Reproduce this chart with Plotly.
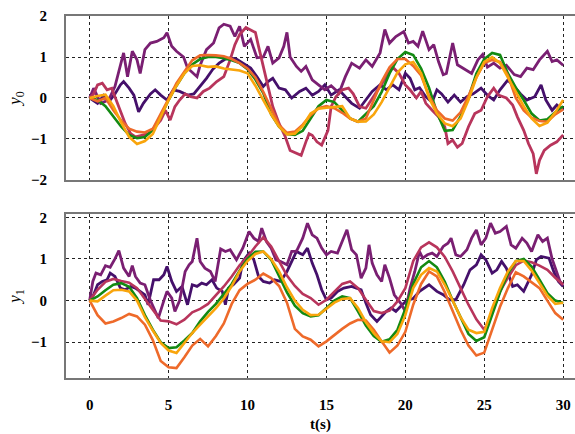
import plotly.graph_objects as go

# regular time grid (s) for the smooth series
t = [i * 0.5 for i in range(61)]

# ---- top panel (y0): smooth series on the regular grid ----
y0_green = [0, -0.05, -0.2, -0.45, -0.7, -0.9, -0.98, -0.95, -0.78, -0.45, -0.05, 0.3, 0.6, 0.82, 0.95, 1.0,
            1.0, 0.97, 0.92, 0.85, 0.7, 0.45, 0.12, -0.4, -0.7, -0.88, -0.9, -0.8, -0.5, -0.2, -0.05,
            -0.1, -0.3, -0.5, -0.58, -0.4, -0.2, 0.15, 0.6, 0.95, 1.12, 1.05, 0.72, 0.25, -0.35, -0.8,
            -0.78, -0.45, 0.0, 0.6, 0.95, 1.1, 1.05, 0.6, 0.25, -0.05, -0.38, -0.55, -0.52, -0.35, -0.2]
y0_yellow = [0, 0.05, 0.08, -0.2, -0.6, -0.95, -1.12, -1.05, -0.88, -0.46, -0.05, 0.3, 0.6, 0.78, 0.8, 0.76,
             0.77, 0.72, 0.7, 0.67, 0.6, 0.3, -0.05, -0.4, -0.7, -0.89, -0.87, -0.68, -0.38, -0.26, -0.24,
             -0.22, -0.2, -0.5, -0.58, -0.57, -0.4, -0.1, 0.28, 0.62, 0.82, 0.88, 0.6, 0.0, -0.38, -0.62,
             -0.69, -0.5, -0.05, 0.5, 0.88, 1.0, 0.85, 0.5, 0.15, -0.2, -0.5, -0.68, -0.6, -0.35, -0.05]
y0_orange = [0, -0.08, 0.0, -0.3, -0.55, -0.75, -0.82, -0.84, -0.75, -0.4, -0.02, 0.36, 0.65, 0.92, 1.04, 1.05,
             1.04, 1.02, 0.95, 0.85, 0.72, 0.5, 0.15, -0.25, -0.66, -0.85, -0.82, -0.65, -0.42, -0.25, -0.2,
             -0.25, -0.36, -0.5, -0.58, -0.5, -0.05, 0.4, 0.75, 0.95, 0.95, 0.78, 0.55, 0.05, -0.3, -0.5,
             -0.55, -0.35, 0.05, 0.5, 0.85, 0.93, 0.88, 0.55, 0.0, -0.3, -0.48, -0.56, -0.58, -0.4, -0.28]

# ---- top panel: noisy series as (t, value) readings ----
y0_dark = [(0, 0), (0.5, -0.13), (0.9, 0.07), (1.3, -0.05), (1.6, 0.1), (1.95, 0.32), (2.15, 0.4), (2.5, 0.24),
           (2.8, 0.07), (3.1, -0.34), (3.4, -0.13), (3.85, 0.1), (4.15, 0.2), (4.5, 0.07), (4.9, -0.05),
           (5.3, 0.2), (5.7, 0.16), (6.2, 0.07), (6.6, 0.1), (7.0, 0.28), (7.4, 0.48), (7.8, 0.7), (8.2, 0.85),
           (8.6, 0.95), (8.9, 0.98), (9.3, 0.95), (9.7, 0.85), (10.2, 0.73), (10.6, 0.52), (11.0, 0.28),
           (11.3, 0.4), (11.6, 0.48), (12.0, 0.24), (12.4, 0.2), (12.8, 0.0), (13.3, 0.16), (13.7, 0.24),
           (14.1, 0.07), (14.5, 0.16), (14.9, 0.32), (15.3, 0.07), (15.8, 0.2), (16.2, 0.03), (16.6, -0.13),
           (17.1, -0.25), (17.5, -0.05), (17.9, 0.16), (18.4, 0.32), (18.8, 0.2), (19.2, 0.32), (19.6, 0.2),
           (20.0, 0.6), (20.3, 0.48), (20.6, 0.2), (20.9, 0.25), (21.3, 0.03), (21.7, -0.1), (22.0, 0.2),
           (22.3, 0.1), (22.7, -0.1), (23.1, 0.07), (23.5, -0.1), (23.9, 0.03), (24.3, 0.1), (24.8, 0.24),
           (25.2, 0.07), (25.6, -0.05), (26.0, 0.2), (26.5, 0.44), (26.9, 0.28), (27.3, 0.1), (27.7, -0.05),
           (28.2, 0.03), (28.6, 0.32), (28.9, -0.05), (29.3, -0.3), (29.6, -0.17), (30.0, -0.3)]
y0_purple = [(0, 0), (0.25, 0.24), (0.7, -0.13), (1.2, -0.05), (1.6, 0.28), (1.95, 0.85), (2.15, 1.1), (2.4, 0.52),
             (2.7, 1.14), (3.0, 0.93), (3.2, 0.6), (3.5, 1.18), (3.85, 1.34), (4.25, 1.38), (4.7, 1.47),
             (4.9, 1.59), (5.2, 1.26), (5.5, 1.14), (5.95, 1.0), (6.2, 0.73), (6.8, 0.52), (7.0, 0.8),
             (7.4, 1.18), (7.85, 1.34), (8.2, 1.71), (8.5, 1.8), (8.9, 1.75), (9.2, 1.5), (9.5, 1.75),
             (9.8, 1.26), (10.2, 1.43), (10.6, 0.98), (11.0, 1.0), (11.3, 1.26), (11.6, 0.85), (12.0, 0.98),
             (12.3, 1.26), (12.5, 1.6), (12.7, 1.0), (13.1, 0.77), (13.4, 0.65), (13.7, 0.77), (14.1, 0.44),
             (14.5, 0.32), (14.9, 0.2), (15.3, 0.3), (15.8, 0.12), (16.2, 0.52), (16.6, 0.85), (17.1, 0.73),
             (17.5, 0.93), (17.9, 0.77), (18.4, 1.1), (18.7, 1.67), (19.0, 1.34), (19.4, 1.5), (19.9, 1.62),
             (20.2, 1.34), (20.5, 1.38), (20.8, 1.26), (21.1, 1.63), (21.5, 1.18), (21.8, 1.3), (22.1, 0.89),
             (22.4, 0.57), (22.6, 0.6), (23.0, 1.34), (23.3, 0.81), (23.8, 0.69), (24.2, 0.6), (24.6, 0.93),
             (24.9, 1.06), (25.2, 0.75), (25.6, 0.85), (26.0, 0.73), (26.4, 0.8), (26.9, 0.57), (27.3, 0.52),
             (27.7, 0.73), (28.1, 0.69), (28.5, 0.93), (29.0, 1.14), (29.3, 0.89), (29.6, 0.93), (30.0, 0.8)]
y0_pink = [(0, 0), (0.25, 0.1), (0.5, 0.32), (0.8, 0.36), (1.1, 0.2), (1.4, 0.24), (1.6, 0.03), (1.95, -0.3),
           (2.25, -0.62), (2.6, -0.87), (2.9, -0.95), (3.3, -0.91), (3.7, -0.87), (4.15, -0.7), (4.5, -0.54),
           (4.8, -0.3), (5.1, -0.54), (5.4, -0.21), (5.7, -0.05), (6.05, 0.1), (6.4, 0.03), (6.8, 0.0),
           (7.2, 0.16), (7.6, 0.24), (8.05, 0.4), (8.5, 0.52), (8.9, 0.93), (9.2, 1.3), (9.5, 1.55),
           (9.9, 1.72), (10.3, 1.65), (10.5, 1.6), (10.7, 1.26), (11.0, 0.77), (11.3, 0.28), (11.6, -0.21),
           (12.0, -0.62), (12.4, -0.95), (12.7, -1.28), (13.1, -1.36), (13.4, -1.4), (13.7, -1.07),
           (13.9, -0.87), (14.1, -0.91), (14.4, -1.07), (14.7, -1.15), (15.1, -0.79), (15.3, -0.21),
           (15.6, 0.03), (16.0, 0.2), (16.4, 0.24), (16.7, 0.1), (17.1, -0.21), (17.5, -0.25), (17.9, 0.0),
           (18.4, 0.28), (18.8, 0.52), (19.2, 0.75), (19.6, 0.6), (20.0, 0.32), (20.3, 0.2), (20.7, 0.0),
           (21.0, 0.16), (21.3, -0.13), (21.7, -0.3), (22.1, -0.46), (22.5, -0.7), (22.7, -1.11), (23.0, -1.03),
           (23.3, -1.2), (23.6, -1.11), (24.0, -0.7), (24.4, -0.38), (24.8, -0.3), (25.2, 0.03), (25.6, 0.24),
           (25.9, 0.07), (26.4, 0.0), (26.8, -0.17), (27.1, -0.46), (27.5, -0.79), (27.8, -1.11), (28.1, -1.36),
           (28.3, -1.85), (28.5, -1.52), (28.8, -1.28), (29.2, -1.15), (29.6, -1.07), (30.0, -0.9)]

# ---- bottom panel (y1): smooth series on the regular grid ----
y1_green = [0, 0.1, 0.25, 0.38, 0.42, 0.33, 0.06, -0.35, -0.7, -1.0, -1.14, -1.12, -0.96, -0.78, -0.5, -0.27,
            -0.08, 0.15, 0.4, 0.72, 1.0, 1.17, 1.18, 0.98, 0.6, 0.2, -0.12, -0.3, -0.38, -0.35, -0.18,
            0.0, 0.1, 0.06, -0.26, -0.6, -0.85, -0.99, -0.93, -0.7, -0.2, 0.4, 0.8, 0.95, 0.8, 0.45,
            0.0, -0.42, -0.8, -0.97, -0.88, -0.34, 0.2, 0.65, 0.95, 1.0, 0.82, 0.5, 0.18, 0.0, -0.06]
y1_yellow = [0, -0.02, 0.12, 0.25, 0.26, 0.22, 0.0, -0.4, -0.72, -1.02, -1.2, -1.26, -1.02, -0.78, -0.58, -0.38,
             -0.18, 0.05, 0.35, 0.7, 0.95, 1.12, 1.18, 1.0, 0.7, 0.32, 0.0, -0.22, -0.35, -0.34, -0.2,
             -0.05, 0.04, 0.06, -0.18, -0.52, -0.78, -0.98, -1.0, -0.8, -0.35, 0.3, 0.62, 0.78, 0.7, 0.38,
             0.0, -0.4, -0.7, -0.78, -0.75, -0.18, 0.3, 0.7, 0.95, 0.95, 0.72, 0.42, 0.12, -0.08, -0.05]
y1_orange = [0, -0.35, -0.55, -0.5, -0.42, -0.32, -0.38, -0.58, -0.95, -1.45, -1.6, -1.62, -1.36, -1.08, -0.92, -1.1,
             -0.85, -0.55, -0.08, 0.25, 0.4, 0.5, 0.65, 0.54, 0.35, -0.05, -0.68, -0.86, -0.94, -1.1, -0.98,
             -0.82, -0.68, -0.55, -0.46, -0.48, -0.7, -0.98, -1.25, -1.08, -0.75, -0.1, 0.4, 0.7, 0.58, 0.2,
             -0.25, -0.7, -1.08, -1.32, -1.25, -0.7, -0.15, 0.3, 0.68, 0.58, 0.45, 0.3, 0.0, -0.3, -0.46]
y1_pink = [0, 0.26, 0.45, 0.52, 0.47, 0.43, 0.3, 0.05, -0.22, -0.48, -0.5, -0.57, -0.46, -0.28, -0.2, -0.08,
           0.12, 0.34, 0.58, 0.85, 1.05, 1.3, 1.52, 1.3, 0.95, 0.6, 0.35, 0.16, 0.06, -0.1, 0.02,
           0.2, 0.4, 0.46, 0.3, 0.02, -0.25, -0.3, -0.24, -0.02, 0.3, 0.95, 1.28, 1.4, 1.28, 1.05,
           0.7, 0.3, -0.1, -0.45, -0.7, -0.3, 0.22, 0.55, 0.85, 0.96, 0.92, 0.84, 0.74, 0.55, 0.38]

# ---- bottom panel: noisy series as (t, value) readings ----
y1_dark = [(0, 0), (0.25, 0.14), (0.5, 0.38), (0.8, 0.46), (1.1, 0.5), (1.3, 0.66), (1.6, 0.58), (1.95, 0.3),
           (2.25, 0.26), (2.6, 0.34), (2.9, 0.3), (3.2, 0.22), (3.5, 0.14), (3.7, -0.1), (4.05, 0.5), (4.4, 0.5),
           (4.7, 0.62), (4.9, 0.82), (5.2, 0.46), (5.5, 0.22), (5.85, 0.34), (6.2, -0.1), (6.5, 0.38),
           (6.8, 0.34), (7.1, 0.42), (7.4, 0.38), (7.75, 0.5), (8.05, 0.3), (8.4, 0.22), (8.6, -0.1), (8.8, 0.3),
           (9.1, 0.38), (9.5, 0.54), (9.7, 0.94), (10.1, 1.14), (10.4, 0.98), (10.7, 0.58), (11.0, 0.46),
           (11.4, 0.42), (11.7, 0.5), (12.1, 0.46), (12.5, 0.7), (12.8, 0.94), (13.1, 1.18), (13.5, 1.1),
           (13.8, 1.26), (14.1, 0.9), (14.4, 0.62), (14.7, 0.26), (15.0, 0.02), (15.3, 0.06), (15.7, 0.22),
           (16.1, 0.3), (16.6, 0.34), (16.9, 0.3), (17.2, 0.26), (17.5, -0.06), (17.8, -0.34), (18.2, -0.5),
           (18.5, -0.38), (18.8, -0.26), (19.1, -0.18), (19.4, -0.26), (19.8, -0.1), (20.1, 0.0), (20.5, 0.05),
           (20.9, 0.22), (21.5, 0.38), (22.0, 0.22), (22.4, 0.14), (22.8, 0.02), (23.2, 0.02), (23.7, 0.38),
           (24.1, 0.74), (24.5, 0.86), (24.8, 1.1), (25.1, 0.98), (25.5, 0.66), (25.8, 0.74), (26.1, 0.94),
           (26.4, 0.78), (26.8, 0.34), (27.1, 0.38), (27.5, 0.22), (28.0, 0.62), (28.3, 0.98), (28.6, 1.06),
           (29.1, 1.02), (29.4, 0.7), (29.7, 0.46), (30.0, 0.34)]
y1_purple = [(0, 0), (0.2, 0.46), (0.4, 0.66), (0.7, 0.62), (1.0, 0.84), (1.3, 0.8), (1.6, 1.0), (1.85, 1.2),
             (2.15, 0.78), (2.5, 0.58), (2.7, 0.84), (2.9, 0.58), (3.2, 0.42), (3.5, 0.38), (3.85, 0.0),
             (4.15, -0.26), (4.35, -0.42), (4.7, 0.0), (4.9, 0.22), (5.2, 0.06), (5.4, -0.26), (5.7, 0.0),
             (6.05, 0.7), (6.3, 0.86), (6.5, 0.94), (6.8, 1.5), (7.0, 0.94), (7.3, 0.78), (7.65, 0.7),
             (7.95, 0.46), (8.3, 1.24), (8.6, 1.18), (8.9, 1.22), (9.3, 0.98), (9.7, 1.26), (10.1, 1.66),
             (10.4, 1.5), (10.7, 1.42), (10.9, 1.74), (11.2, 1.42), (11.5, 1.26), (11.8, 0.98), (12.1, 0.94),
             (12.5, 0.86), (12.8, 1.18), (13.1, 1.18), (13.5, 1.5), (13.8, 1.86), (14.1, 1.58), (14.4, 1.5),
             (14.7, 1.26), (15.0, 1.1), (15.3, 1.18), (15.7, 1.14), (16.1, 1.5), (16.3, 1.7), (16.6, 1.22),
             (16.9, 1.1), (17.2, 0.54), (17.5, 0.78), (17.7, 1.34), (17.9, 0.9), (18.2, 0.62), (18.5, 0.46),
             (18.7, 0.86), (19.0, 0.54), (19.3, 0.14), (19.7, -0.06), (20.0, -0.26), (20.3, 0.3), (20.6, 0.7),
             (20.9, 1.18), (21.1, 1.02), (21.4, 1.1), (21.7, 1.14), (22.0, 1.06), (22.4, 1.3), (22.7, 1.38),
             (22.9, 1.5), (23.2, 1.1), (23.5, 1.06), (23.9, 1.22), (24.2, 1.5), (24.5, 1.7), (24.8, 1.34),
             (25.1, 1.5), (25.4, 1.86), (25.7, 1.62), (26.0, 1.66), (26.4, 1.78), (26.7, 1.34), (27.0, 1.26),
             (27.4, 1.5), (27.7, 1.38), (28.0, 1.18), (28.4, 1.58), (28.7, 1.42), (29.0, 1.5), (29.3, 1.0),
             (29.6, 0.7), (29.8, 0.46), (30.0, 0.38)]

x_ticks = [0, 5, 10, 15, 20, 25, 30]
y0_ticks = [-2, -1, 0, 1, 2]
y1_ticks = [-1, 0, 1, 2]

C_DARK = "#45106b"
C_PURPLE = "#7a1f72"
C_PINK = "#b8355c"
C_ORANGE = "#ee6a2a"
C_YELLOW = "#f9a50c"
C_GREEN = "#138a12"


def split(pairs):
    return [p[0] for p in pairs], [p[1] for p in pairs]


fig = go.Figure()


def add(xs, ys, color, ax, width=2.8):
    fig.add_trace(go.Scatter(x=xs, y=ys, mode="lines", line=dict(color=color, width=width),
                             xaxis="x" if ax == 1 else "x2", yaxis="y" if ax == 1 else "y2",
                             showlegend=False, hoverinfo="skip"))


for pairs, c in [(y0_dark, C_DARK), (y0_purple, C_PURPLE), (y0_pink, C_PINK)]:
    xs, ys = split(pairs)
    add(xs, ys, c, 1)
for ys, c in [(y0_green, C_GREEN), (y0_orange, C_ORANGE), (y0_yellow, C_YELLOW)]:
    add(t, ys, c, 1, 2.6)

for pairs, c in [(y1_dark, C_DARK), (y1_purple, C_PURPLE)]:
    xs, ys = split(pairs)
    add(xs, ys, c, 2)
for ys, c in [(y1_pink, C_PINK), (y1_green, C_GREEN), (y1_orange, C_ORANGE), (y1_yellow, C_YELLOW)]:
    add(t, ys, c, 2, 2.6)

tickfont = dict(family="Liberation Serif, Times New Roman, serif", size=15, color="black", weight="bold")
grid = dict(showgrid=True, gridcolor="#222", gridwidth=1, griddash="3px,3px")
xcommon = dict(range=[-1.5, 30.75], tickvals=x_ticks, showline=True, linecolor="#777", linewidth=2,
               mirror=True, zeroline=False, ticks="", **grid)
ycommon = dict(showline=True, linecolor="#777", linewidth=2, zeroline=False, ticks="",
               tickfont=tickfont, ticklabelstandoff=14, **grid)

fig.update_layout(
    width=575, height=434,
    margin=dict(l=66, r=0, t=16, b=56),
    paper_bgcolor="white", plot_bgcolor="white",
    xaxis=dict(domain=[0, 1], anchor="y", showticklabels=False, **xcommon),
    yaxis=dict(domain=[0.547, 1], anchor="x", range=[-2, 2], tickvals=y0_ticks,
               title=dict(text="<i>y</i><sub>0</sub>", font=dict(family="Liberation Serif, serif", size=17, color="black"), standoff=6),
               **ycommon),
    xaxis2=dict(domain=[0, 1], anchor="y2", showticklabels=True, tickfont=tickfont, ticklabelstandoff=12,
                title=dict(text="<b>t(s)</b>", font=dict(family="Liberation Serif, serif", size=15, color="black"), standoff=6),
                **xcommon),
    yaxis2=dict(domain=[0, 0.453], anchor="x2", range=[-1.86, 2.08], tickvals=y1_ticks,
                title=dict(text="<i>y</i><sub>1</sub>", font=dict(family="Liberation Serif, serif", size=17, color="black"), standoff=6),
                **ycommon),
)

fig.write_html("out.html")
